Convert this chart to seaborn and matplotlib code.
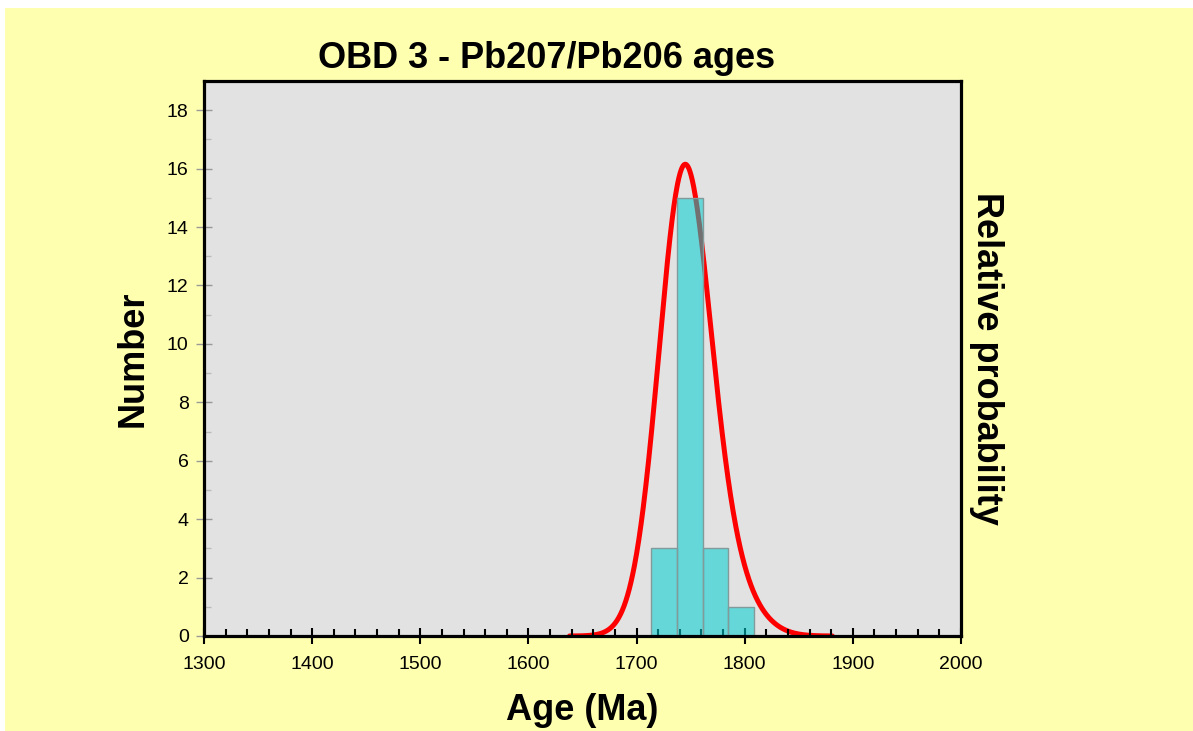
import numpy as np
import pandas as pd
import seaborn as sns
import matplotlib.pyplot as plt
from matplotlib.patches import Rectangle
from matplotlib.ticker import MultipleLocator

# Pb207/Pb206 ages of individual grains (Ma) and their 1-sigma errors
ages = [1722, 1729, 1734,
        1737, 1738, 1739, 1740, 1741, 1742, 1743, 1744, 1745, 1746, 1747,
        1749, 1751, 1754, 1758,
        1763, 1768, 1776,
        1796]
errors = [22, 20, 23,
          21, 24, 20, 22, 19, 23, 21, 22, 20, 24, 21,
          22, 23, 20, 22,
          21, 23, 22,
          24]

bin_edges = [1713, 1737, 1761, 1785, 1809]
x_ticks = [1300, 1400, 1500, 1600, 1700, 1800, 1900, 2000]
y_ticks = [0, 2, 4, 6, 8, 10, 12, 14, 16, 18]
curve_range = (1638, 1881)

title = "OBD 3 - Pb207/Pb206 ages"
x_label = "Age (Ma)"
y_label = "Number"
y2_label = "Relative probability"

# Probability density: sum of the Gaussians of each grain age
grid = np.linspace(curve_range[0], curve_range[1], 600)
a = np.array(ages, dtype=float)[:, None]
s = np.array(errors, dtype=float)[:, None]
density = (np.exp(-0.5 * ((grid - a) / s) ** 2) / s).sum(axis=0)
rel_prob = density / density.max()
curve = pd.DataFrame({"age": grid, "prob": rel_prob})
grains = pd.DataFrame({"age": ages})

sns.set_theme(style="white")
plt.rcParams["font.family"] = ["Liberation Sans", "DejaVu Sans"]

W, H = 1193, 731
fig = plt.figure(figsize=(W / 100, H / 100), dpi=100, facecolor="white")
fig.patches.append(Rectangle((5 / W, 0), 1 - 5 / W, 1 - 8 / H,
                             transform=fig.transFigure, facecolor="#FFFFB0",
                             edgecolor="none", zorder=-10))

ax = fig.add_axes([204 / W, 1 - 636 / H, (961 - 204) / W, (636 - 81) / H])
ax2 = ax.twinx()
# curve axis sits behind the histogram axis and carries the grey panel
ax.set_zorder(2)
ax2.set_zorder(1)
ax.patch.set_visible(False)
ax2.patch.set_visible(True)
ax2.patch.set_facecolor("#E2E2E2")

ax2.xaxis.grid(True, linestyle=(0, (5, 5)), color="#cdcdcd", linewidth=0.8)
ax2.yaxis.grid(False)
ax2.set_axisbelow(True)

sns.lineplot(data=curve, x="age", y="prob", ax=ax2, color="red",
             linewidth=3.6, sort=False)
ax2.set_ylim(0, 19 / 16.15)
ax2.set_yticks([])
ax2.set_ylabel(y2_label, rotation=270, fontsize=26, fontweight="bold",
               labelpad=31, color="black")
for sp in ax2.spines.values():
    sp.set_visible(False)

sns.histplot(data=grains, x="age", bins=bin_edges, ax=ax,
             color="darkturquoise", alpha=0.55, edgecolor="#829a9a",
             linewidth=1.0)

ax.set_xlim(1300, 2000)
ax.set_ylim(0, 19)
ax.set_xticks(x_ticks)
ax.set_yticks(y_ticks)
ax.xaxis.set_minor_locator(MultipleLocator(20))
ax.yaxis.set_minor_locator(MultipleLocator(1))
ax.tick_params(axis="x", which="major", direction="inout", length=11,
               width=1.5, color="black", labelsize=14, pad=9,
               labelcolor="black", bottom=True)
ax.tick_params(axis="x", which="minor", direction="in", length=5,
               width=1.5, color="black", bottom=True)
ax.tick_params(axis="y", which="major", direction="inout", length=12,
               width=1.0, color="#999999", labelsize=14, pad=5,
               labelcolor="black", left=True)
ax.tick_params(axis="y", which="minor", direction="in", length=5,
               width=1.0, color="#bbbbbb", left=True)
ax.grid(False)

for sp in ax.spines.values():
    sp.set_visible(True)
    sp.set_color("black")
    sp.set_linewidth(2.3)

ax.set_xlabel(x_label, fontsize=26, fontweight="bold", labelpad=14,
              color="black")
ax.set_ylabel(y_label, fontsize=26, fontweight="bold", labelpad=12,
              color="black")

fig.text(547 / W, 1 - 58 / H, title, ha="center", va="center",
         fontsize=26, fontweight="bold", color="black")

fig.savefig("out.png", dpi=100, facecolor=fig.get_facecolor())
